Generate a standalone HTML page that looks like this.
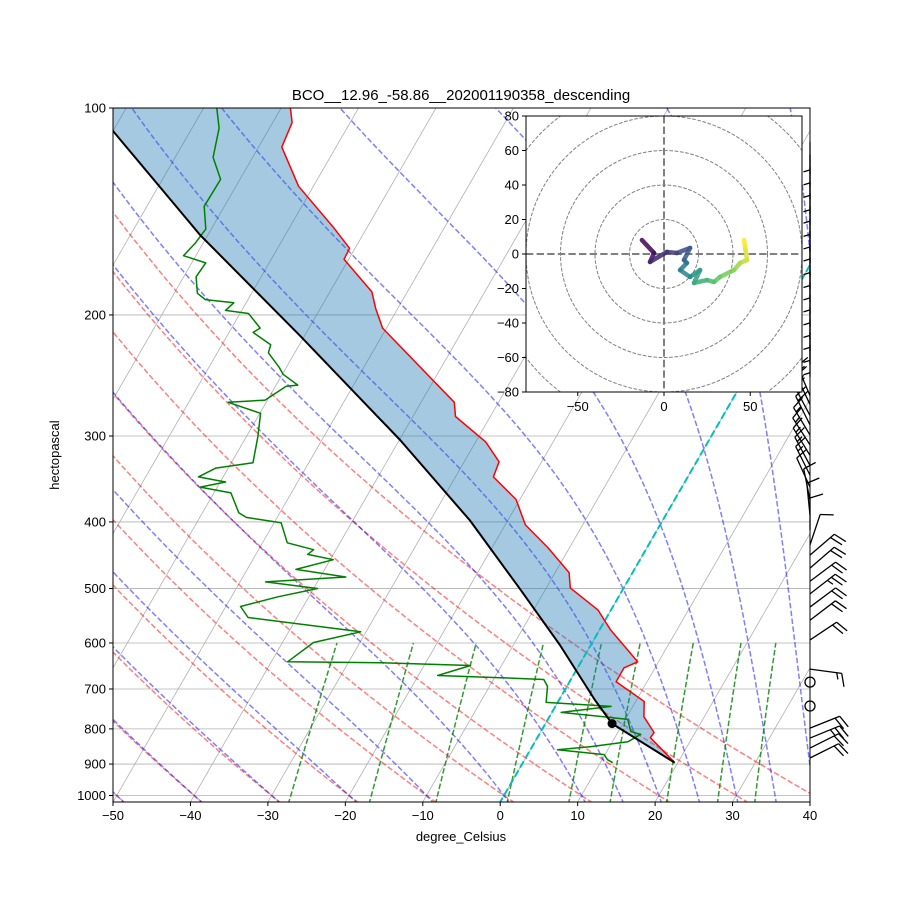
<!DOCTYPE html>
<html><head><meta charset="utf-8"><style>
body{margin:0;background:#fff;}
svg text{font-family:"Liberation Sans",sans-serif;}
</style></head><body>
<svg id="fig" width="900" height="900" viewBox="0 0 900 900" xmlns="http://www.w3.org/2000/svg">
<rect width="900" height="900" fill="#fff"/>
<defs>
<clipPath id="plotclip"><rect x="113" y="108" width="697" height="694"/></clipPath>
<clipPath id="hodoclip"><rect x="526" y="116" width="276" height="276"/></clipPath>
</defs>
<g id="main" clip-path="url(#plotclip)"></g>
<g id="axes"></g>
<g id="barbs"></g>
<g id="hodo"></g>
<text x="461" y="100" font-size="15" text-anchor="middle">BCO__12.96_-58.86__202001190358_descending</text>
<text x="461" y="841" font-size="13" text-anchor="middle">degree_Celsius</text>
<text x="59" y="455" font-size="13" text-anchor="middle" transform="rotate(-90 59 455)">hectopascal</text>
</svg>
<script>
// ---- data (pressure hPa, temperature degC) ----
const tempP = [100,105,114,130,149,160,166,185,196,209,251,268,281,306,327,344,371,404,436,474,499,537,574,639,652,683,730,768,810,824,896];
const tempT = [-78.8,-77.5,-77.0,-71.9,-64.4,-60.7,-60.6,-54.6,-52.8,-50.5,-39.6,-35.7,-34.5,-28.7,-25.5,-25.1,-20.5,-17.4,-12.8,-8.2,-6.9,-1.7,1.4,7.3,6.0,6.0,11.1,12.2,14.7,14.6,19.6];
const dewP = [100,107,118,127,139,150,157,164,168,176,186,190,192,197,199,209,212,221,227,238,244,253,254,266,268,278,301,328,334,344,350,356,363,388,394,401,429,439,446,454,469,481,489,500,514,531,551,578,599,639,641,647,669,674,678,694,732,742,757,768,775,807,815,835,849,858,872,887,896];
const dewT = [-88.3,-86.5,-85.1,-82.5,-82.6,-80.7,-81.0,-81.6,-78.2,-78.4,-77.0,-75.5,-71.6,-72.1,-68.9,-66.3,-66.9,-63.7,-63.4,-61.0,-59.9,-57.2,-58.6,-60.3,-64.9,-59.9,-58.5,-57.2,-61.6,-63.2,-59.3,-62.2,-57.8,-55.3,-54.0,-49.1,-46.8,-42.9,-43.3,-39.6,-43.7,-36.7,-46.7,-39.5,-44.0,-48.1,-46.3,-30.7,-36.0,-37.9,-25.8,-14.0,-17.5,-9.2,-3.5,-2.5,-1.5,7.2,1.2,7.0,10.3,11.6,13.1,12.0,7.6,3.5,9.9,10.7,11.6];
const parcelP = [100,108,153,214,304,398,502,604,726,786,896];
const parcelT = [-103,-100,-81.0,-60.7,-39.9,-24.9,-13.2,-4.0,4.6,8.6,19.6];
const lclP = 786, lclT = 8.6;
// wind barbs (hPa, knots)
const barbP = [112,117,122,128,133,139,145,151,158,165,172,179,187,195,203,212,221,262,270,280,289,299,309,320,331,342,356,372,391,411,432,447,467,488,509,532,556,594,655,684,741,798,825,853,882];
const barbU = [0,0,0,0,0,0,0,0,0,0,0,0,0,0,0,0,0,6,7,8,8,9,9,8,7,6,5,2,1,0,-3,-14,-15,-16,-18,-16,-17,-15,-15,0,0,-20,-22,-20,-18];
const barbV = [5,5,5,5,5,5,5,5,5,5,5,5,5,5,5,5,5,-14,-15,-15,-16,-15,-14,-13,-13,-12,-11,-10,-10,-9,-9,-12,-13,-12,-14,-12,-13,-10,2,0,0,-8,-9,-10,-9];
// hodograph (u, v)
const hodoU = [-12.8,-5.8,-8.1,1.7,7.5,15.1,11.6,13.3,9.3,15.1,20.9,17.4,24.9,29.0,32.5,40.6,44.1,48.1,47.0,46.4];
const hodoV = [8.1,0.6,-4.6,1.2,0.6,3.5,-3.5,-5.2,-9.3,-13.3,-9.3,-16.8,-15.1,-16.2,-13.3,-9.3,-5.2,-3.5,4.1,8.1];
const xTicks = [-50,-40,-30,-20,-10,0,10,20,30,40];
const yTicks = [100,200,300,400,500,600,700,800,900,1000];
const hodoTicks = [-80,-60,-40,-20,0,20,40,60,80];
const hodoXTicks = [-50,0,50];
const dryT0 = [-50,-40,-30,-20,-10,0,10,20,30,40];
const moistT0 = [-50,-40,-30,-20,-10,0,10,15,20,25,30,35,40,45];
const mixW = [0.0004,0.001,0.002,0.004,0.007,0.01,0.016,0.024,0.032];

const NS='http://www.w3.org/2000/svg';
const X0=113, X1=810, YT=108, YB=802, KX=697/90, SK=0.577;
function yP(p){return YT+687.5*Math.log10(p/100);}
function xT(t,p){return X0+(t+50)*KX+(YB-yP(p))*SK;}
function mk(tag,attrs,parent){const e=document.createElementNS(NS,tag);for(const k in attrs)e.setAttribute(k,attrs[k]);parent.appendChild(e);return e;}
function ptsStr(P,T){return P.map((p,i)=>xT(T[i],p).toFixed(1)+','+yP(p).toFixed(1)).join(' ');}
const main=document.getElementById('main');
const axes=document.getElementById('axes');

yTicks.forEach(p=>{const l=mk('line',{x1:X0,x2:X1,y1:yP(p),y2:yP(p),stroke:'#b0b0b0','stroke-width':0.8},main);

});
for(let t=-160;t<=40;t+=10){const l=mk('line',{x1:xT(t,1023),y1:yP(1023),x2:xT(t,100),y2:yP(100),stroke:'#b0b0b0','stroke-width':0.8},main);

}
const pr=[];for(let p=1025;p>=100;p-=5)pr.push(p);
dryT0.forEach(t0=>{const th=t0+273.15;const T=pr.map(p=>th*Math.pow(p/1000,0.2857)-273.15);
const l=mk('polyline',{points:ptsStr(pr,T),fill:'none',stroke:'rgba(255,0,0,0.5)','stroke-width':1.5,'stroke-dasharray':'5.5,2.4'},main);

});
function lapse(p,T){const Rd=287.04,cp=1005.7,Lv=2.501e6,eps=0.622;const es=6.112*Math.exp(17.67*(T-273.15)/(T-29.65));const rs=eps*es/Math.max(p-es,1);return (Rd*T+Lv*rs)/(cp+Lv*Lv*rs*eps/(Rd*T*T))/p;}
moistT0.forEach(t0=>{let T1=t0+273.15;
const up=[];let p=1000,t=T1;up.push([p,t]);while(p>100){const h=-5;const k1=lapse(p,t);const k2=lapse(p+h,t+h*k1);t+=h*(k1+k2)/2;p+=h;up.push([p,t]);}
let dn=[];p=1000;t=T1;while(p<1030){const h=5;const k1=lapse(p,t);const k2=lapse(p+h,t+h*k1);t+=h*(k1+k2)/2;p+=h;dn.push([p,t]);}
const all=dn.reverse().concat(up);
const l=mk('polyline',{points:ptsStr(all.map(a=>a[0]),all.map(a=>a[1]-273.15)),fill:'none',stroke:'rgba(0,0,255,0.5)','stroke-width':1.5,'stroke-dasharray':'5.5,2.4'},main);

});
const pm=[];for(let p=1030;p>=600;p-=10)pm.push(p);
mixW.forEach(w=>{const T=pm.map(p=>{const e=p*w/(0.622+w);const a=Math.log(e/6.112);return 243.5*a/(17.67-a);});
const l=mk('polyline',{points:ptsStr(pm,T),fill:'none',stroke:'rgba(0,128,0,0.8)','stroke-width':1.5,'stroke-dasharray':'5.5,2.4'},main);

});
{const a=ptsStr(tempP,tempT);const b=ptsStr(parcelP.slice().reverse(),parcelT.slice().reverse());
const f=mk('polygon',{points:a+' '+b,fill:'#1f77b4','fill-opacity':0.4,stroke:'none'},main);

}
{const l=mk('line',{x1:xT(0,1030),y1:yP(1030),x2:xT(0,100),y2:yP(100),stroke:'#00bfbf','stroke-width':2,'stroke-dasharray':'7.4,3.2'},main);

}
{const l=mk('polyline',{points:ptsStr(tempP,tempT),fill:'none',stroke:'#ff0000','stroke-width':1.5,'stroke-linejoin':'round'},main);

}
{const l=mk('polyline',{points:ptsStr(dewP,dewT),fill:'none',stroke:'#008000','stroke-width':1.5,'stroke-linejoin':'round'},main);

}
{const l=mk('polyline',{points:ptsStr(parcelP,parcelT),fill:'none',stroke:'#000','stroke-width':2,'stroke-linejoin':'round'},main);

}
{const c=mk('circle',{cx:xT(lclT,lclP),cy:yP(lclP),r:4.5,fill:'#000'},main);

}

{const r=mk('rect',{x:X0,y:YT,width:X1-X0,height:YB-YT,fill:'none',stroke:'#000','stroke-width':1},axes);

}
xTicks.forEach(t=>{const x=X0+(t+50)*KX;mk('line',{x1:x,x2:x,y1:YB,y2:YB+4,stroke:'#000'},axes);
const tx=mk('text',{x:x,y:YB+18,'font-size':13,'text-anchor':'middle'},axes);tx.textContent=(t<0?'\u2212':'')+Math.abs(t);

});
yTicks.forEach(p=>{const y=yP(p);mk('line',{x1:X0-4,x2:X0,y1:y,y2:y,stroke:'#000'},axes);
const tx=mk('text',{x:X0-7,y:y+4.5,'font-size':13,'text-anchor':'end'},axes);tx.textContent=p;

});

const bg=document.getElementById('barbs');
barbP.forEach((p,i)=>{const u=barbU[i],v=barbV[i];const y=yP(p),x=X1;const sp=Math.hypot(u,v);
const g=mk('g',{},bg);


if(sp<2.5){mk('circle',{cx:x,cy:y,r:5,fill:'none',stroke:'#000','stroke-width':1.3},g);return;}
const dx=-u/sp,dy=v/sp;const L=32;const ex=x+dx*L,ey=y+dy*L;
mk('line',{x1:x,y1:y,x2:ex,y2:ey,stroke:'#000','stroke-width':1.3},g);
const px=-dy,py=dx;let rem=Math.round(sp/5)*5;let pos=0;const fl=13;
while(rem>=10){const bx=ex-dx*pos,by=ey-dy*pos;mk('line',{x1:bx,y1:by,x2:bx+px*fl+dx*4,y2:by+py*fl+dy*4,stroke:'#000','stroke-width':1.3},g);rem-=10;pos+=5;}
if(rem>=5){if(pos===0)pos=4;const bx=ex-dx*pos,by=ey-dy*pos;mk('line',{x1:bx,y1:by,x2:bx+px*fl/2+dx*2,y2:by+py*fl/2+dy*2,stroke:'#000','stroke-width':1.3},g);}
});

const hg=document.getElementById('hodo');
const HX=664,HY=254,HS=1.725;
{const r=mk('rect',{x:526,y:116,width:276,height:276,fill:'#fff',stroke:'none'},hg);

}
const hc=mk('g',{'clip-path':'url(#hodoclip)'},hg);
for(let r=20;r<=120;r+=20){const c=mk('circle',{cx:HX,cy:HY,r:r*HS,fill:'none',stroke:'#808080','stroke-width':1,'stroke-dasharray':'3.7,1.6'},hc);

}
mk('line',{x1:526,x2:802,y1:HY,y2:HY,stroke:'#808080','stroke-width':2,'stroke-dasharray':'7.4,3.2'},hc);
mk('line',{x1:HX,x2:HX,y1:116,y2:392,stroke:'#808080','stroke-width':2,'stroke-dasharray':'7.4,3.2'},hc);
const vir=[[68,1,84],[59,82,139],[33,145,140],[94,201,98],[253,231,37]];
function vc(f){const s=f*4;const i=Math.min(3,Math.floor(s));const r=s-i;const a=vir[i],b=vir[i+1];return 'rgb('+a.map((c,k)=>Math.round(c+(b[k]-c)*r)).join(',')+')';}
for(let i=0;i<hodoU.length-1;i++){const s=mk('line',{x1:HX+hodoU[i]*HS,y1:HY-hodoV[i]*HS,x2:HX+hodoU[i+1]*HS,y2:HY-hodoV[i+1]*HS,stroke:vc(i/(hodoU.length-2)),'stroke-width':4.5,'stroke-linecap':'round','stroke-opacity':0.85},hc);

}
{const r=mk('rect',{x:526,y:116,width:276,height:276,fill:'none',stroke:'#000','stroke-width':1},hg);

}
hodoTicks.forEach(t=>{const y=HY-t*HS;mk('line',{x1:522,x2:526,y1:y,y2:y,stroke:'#000'},hg);
const tx=mk('text',{x:519,y:y+4.5,'font-size':13,'text-anchor':'end'},hg);tx.textContent=(t<0?'\u2212':'')+Math.abs(t);

});
hodoXTicks.forEach(t=>{const x=HX+t*HS;mk('line',{x1:x,x2:x,y1:392,y2:396,stroke:'#000'},hg);
const tx=mk('text',{x:x,y:411,'font-size':13,'text-anchor':'middle'},hg);tx.textContent=(t<0?'\u2212':'')+Math.abs(t);

});
</script>
</body></html>
